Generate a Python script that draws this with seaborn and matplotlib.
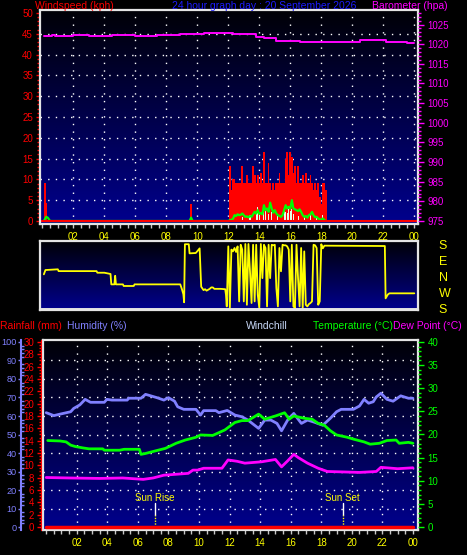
import numpy as np
import matplotlib
matplotlib.use("Agg")
import matplotlib.pyplot as plt
import seaborn as sns
from matplotlib.colors import LinearSegmentedColormap
from matplotlib.ticker import MultipleLocator

# ---------------- data, x in hours since midnight ----------------
hour_ticks = [2, 4, 6, 8, 10, 12, 14, 16, 18, 20, 22, 24]
hour_labels = ["02", "04", "06", "08", "10", "12", "14", "16", "18", "20", "22", "00"]

# windy spell, sampled every 6 minutes
burst_hours = [round(12.1 + 0.1 * i, 1) for i in range(63)]
gust_kph = [13.1, 7.5, 10, 10, 9.2, 9.2, 9.2, 9.2, 13.1,
            9.2, 9.2, 11, 9.2, 9.2, 9.2, 13.1, 11, 9.2, 11,
            9.2, 11.5, 9.2, 16.5, 9.2, 9.2, 13.9, 9.2, 7.5, 9.2,
            7.5, 9.2, 9.2, 11.5, 9.2, 9.2, 9.2, 14.8, 16.5, 11,
            16.5, 15.3, 11.5, 13.1, 9.2, 13.1, 9.2, 9.2, 11, 9.2,
            11.5, 9.2, 9.2, 11, 9.2, 7.5, 9.2, 7.5, 9.2, 5.8,
            4.2, 9.2, 9.2, 7.5]
avg_kph = [0.2, 0.3, 0.5, 1.4, 1.2, 1.6, 1.4, 1.5, 1.8,
           1.4, 1.0, 1.1, 0.9, 1.2, 1.0, 1.6, 2.2, 1.8, 2.6,
           1.7, 1.9, 1.6, 3.8, 2.6, 3.0, 2.2, 4.4, 3.0, 2.0,
           2.6, 1.8, 1.4, 1.2, 1.0, 1.4, 2.6, 3.8, 3.0, 3.4,
           3.0, 5.0, 3.0, 2.8, 2.6, 2.4, 2.8, 2.2, 1.4, 1.0,
           1.2, 0.8, 1.4, 1.6, 2.2, 1.4, 0.9, 1.0, 0.6, 0.4,
           0.3, 0.6, 0.2, 0.0]
early_gust_hours = [0.15, 0.25, 9.6]
early_gust_kph = [9.1, 4.3, 4.0]
early_avg_hours = [0.1, 0.25, 0.35, 0.5, 9.5, 9.6, 9.7, 12.0]
early_avg_kph = [0.0, 1.0, 0.8, 0.0, 0.0, 0.8, 0.0, 0.0]
speed_hours = [12.9, 13.4, 13.8, 13.9, 14.0, 14.3, 14.4, 14.6, 14.8, 15.2, 15.6,
               15.7, 15.8, 15.9, 16.0, 16.1, 16.2, 16.5, 16.9, 17.3, 17.7, 18.1]
speed_kph = [1.0, 1.4, 2.4, 3.4, 1.8, 2.6, 3.0, 1.8, 2.2, 1.2, 3.4,
             2.2, 2.0, 3.0, 2.4, 3.0, 1.6, 1.2, 1.0, 2.0, 1.0, 1.5]

baro_hours = [0.1, 0.6, 0.8, 1.5, 2.0, 3.0, 4.5, 6.0, 7.4, 8.9, 10.4, 12.3,
              13.8, 14.3, 15.1, 16.6, 20.5, 22.2, 23.5, 24.0]
baro_hpa = [1022.1, 1022.35, 1022.1, 1022.1, 1022.35, 1022.2, 1022.25, 1022.1,
            1022.4, 1022.6, 1022.75, 1022.5, 1021.9, 1021.5, 1020.9, 1020.5,
            1021.0, 1020.55, 1020.3, 1020.3]

# wind direction, 0 = S, 90 = W, 180 = N, 270 = E, 360 = S
dir_early_hours = [0.1, 0.2, 1.0, 1.05, 3.5, 3.55, 4.0, 4.4, 4.45, 4.65, 4.7, 4.75,
                   5.2, 5.25, 5.9, 5.95, 8.9, 9.0, 9.1, 9.15, 9.2, 9.45, 9.5, 9.9,
                   10.0, 10.15, 10.25, 10.4, 10.5, 10.6, 10.8, 10.9, 11.0, 11.1,
                   11.5, 11.8, 11.85]
dir_early_deg = [191, 215, 219, 209, 209, 200, 200, 193, 135, 135, 183, 135,
                 135, 126, 126, 135, 135, 110, 80, 35, 359, 359, 308, 310,
                 320, 336, 122, 103, 108, 100, 110, 118, 118, 110,
                 110, 108, 77]
dir_burst_hours = [round(11.9 + 0.1 * i, 1) for i in range(61)]
dir_burst_deg = [12, 347, 3, 329, 319, 338, 316, 347, 40, 356,
                 329, 40, 360, 21, 360, 208, 31, 356, 40, 356,
                 77, 3, 360, 170, 356, 338, 12, 356, 170, 356,
                 353, 356, 115, 12, 338, 208, 356, 353, 353, 347,
                 329, 40, 356, 12, 3, 356, 170, 12, 338, 3,
                 319, 21, 12, 25, 31, 40, 356, 353, 338, 21, 40]
dir_late_hours = [18.0, 18.1, 18.2, 22.1, 22.15, 22.3, 22.4, 24.0]
dir_late_deg = [359, 336, 351, 349, 57, 79, 85, 85]

hum_hours = [0.0, 0.5, 0.9, 1.6, 1.8, 2.2, 2.55, 2.9, 3.8, 3.97, 4.3, 5.3, 5.4, 6.2,
             6.5, 6.8, 7.25, 7.7, 8.0, 8.4, 8.6, 9.0, 9.8, 10.1, 10.3, 11.1, 11.3,
             11.85, 12.35, 12.8, 13.2, 13.9, 14.3, 14.7, 15.1, 15.4, 15.8, 16.2,
             16.7, 17.1, 17.6, 18.1, 18.6, 19.0, 19.3, 20.1, 20.5, 20.8, 21.1,
             21.4, 21.6, 21.9, 22.3, 22.7, 23.2, 23.7, 24.0]
hum_pct = [61.8, 60.2, 61.0, 62.3, 64.1, 66.0, 69.0, 67.4, 67.4, 69.0, 68.6, 68.6,
           69.6, 69.6, 71.7, 71.0, 69.9, 68.6, 69.9, 68.0, 65.0, 63.6, 63.6, 60.5,
           62.9, 62.9, 61.8, 63.0, 60.5, 59.6, 57.8, 53.3, 57.8, 57.8, 56.0, 52.0,
           57.8, 61.4, 56.0, 57.8, 56.5, 55.0, 58.8, 62.3, 63.6, 63.6, 65.4, 69.0,
           66.9, 67.7, 70.3, 72.3, 69.0, 68.0, 70.9, 69.6, 69.6]

temp_hours = [0.1, 0.9, 1.3, 1.6, 1.9, 2.4, 2.8, 3.7, 3.8, 4.8, 5.1, 6.1, 6.2, 6.5,
              7.2, 7.8, 8.5, 9.1, 9.8, 10.1, 10.9, 11.3, 11.7, 11.9, 12.35, 12.8,
              13.2, 13.9, 14.3, 15.0, 15.6, 15.9, 16.2, 16.9, 17.4, 17.8, 18.2,
              18.6, 19.0, 19.7, 20.1, 20.8, 21.2, 21.8, 22.3, 22.9, 23.1, 23.7, 24.0]
temp_c = [18.7, 18.6, 18.4, 17.7, 17.4, 17.1, 16.9, 16.9, 16.6, 16.6, 16.8, 16.8,
          15.7, 15.9, 16.5, 17.0, 18.1, 18.8, 19.4, 19.9, 19.8, 20.4, 21.0, 21.5,
          22.6, 23.0, 23.0, 24.4, 23.3, 24.0, 24.7, 23.3, 24.0, 23.5, 23.3, 22.4,
          22.0, 20.8, 19.9, 19.4, 19.0, 18.4, 17.9, 18.1, 18.7, 18.8, 18.1, 18.3, 18.1]

dew_hours = [0.0, 1.5, 3.5, 5.0, 6.35, 7.0, 7.7, 8.5, 9.3, 9.6, 9.9, 10.3, 11.5,
             11.9, 12.5, 13.0, 14.1, 15.0, 15.4, 15.8, 16.2, 16.5, 17.1, 17.8,
             18.4, 19.5, 20.5, 21.6, 21.9, 23.0, 24.0]
dew_c = [10.7, 10.6, 10.5, 10.6, 10.3, 10.6, 11.2, 11.4, 11.6, 12.3, 12.3, 12.7,
         12.7, 14.5, 14.2, 13.8, 14.1, 14.6, 13.0, 14.3, 15.7, 15.0, 13.8, 12.7,
         12.0, 11.9, 11.8, 12.0, 12.9, 12.6, 12.8]

rain_hours = [0.0, 24.0]
rain_mm = [0.0, 0.0]

sun_rise, sun_set = 7.1, 19.4

# ---------------- figure ----------------
sns.set_style("dark", {"axes.facecolor": "black", "figure.facecolor": "black"})
plt.rcParams["font.family"] = ["Liberation Sans", "DejaVu Sans"]

W, H = 467, 555
fig = plt.figure(figsize=(W / 100, H / 100), dpi=100, facecolor="black")

FRAME = "#e4e4e4"
RED, MAG, YEL = "#ff0000", "#ff00ff", "#ffff00"
GRN, LAV = "#00ff00", "#8080ff"
TICK = 7
bg = LinearSegmentedColormap.from_list("bg", ["#000006", "#00008e"])


def px_axes(left, top, right, bottom):
    return fig.add_axes([left / W, 1 - bottom / H, (right - left) / W, (bottom - top) / H])


def paint(ax):
    ax.imshow(np.linspace(0, 1, 256).reshape(-1, 1), cmap=bg, aspect="auto",
              extent=(0, 1, 0, 1), transform=ax.transAxes, zorder=0)
    for s in ax.spines.values():
        s.set_color(FRAME)
        s.set_linewidth(1.6)
        s.set_zorder(10)


def grid(ax, ys):
    for x in hour_ticks:
        ax.axvline(x, color="white", lw=1, ls=(0, (1, 4.5)), zorder=1)
    for y in ys:
        ax.axhline(y, color="white", lw=1, ls=(0, (1, 4.5)), zorder=1)


def hide_spines(ax):
    for s in ax.spines.values():
        s.set_visible(False)


def xaxis(ax):
    ax.set_xticks(hour_ticks)
    ax.set_xticklabels(hour_labels)
    ax.xaxis.set_minor_locator(MultipleLocator(0.5))
    ax.tick_params(axis="x", which="both", colors="#c8c8c8", length=3, width=1,
                   labelcolor=YEL, labelsize=TICK, pad=3, bottom=True)


# ---- top: wind speed and barometer ----
ax1 = px_axes(40, 10, 418, 224)
paint(ax1)
grid(ax1, range(5, 50, 5))
ax1.bar(early_gust_hours + burst_hours, early_gust_kph + gust_kph,
        width=0.11, color=RED, linewidth=0, zorder=3)
ax1.bar(speed_hours, speed_kph, width=0.07, color="#e0ffe8", linewidth=0, zorder=4)
sns.lineplot(x=early_avg_hours + burst_hours, y=early_avg_kph + avg_kph, ax=ax1,
             color=GRN, lw=1.6, estimator=None, zorder=5)
ax1.axhline(0, color=RED, lw=1.5, zorder=6)
ax1.set_xlim(-0.15, 24.24)
ax1.set_ylim(-0.72, 50.7)
ax1.yaxis.set_major_locator(MultipleLocator(5))
ax1.yaxis.set_minor_locator(MultipleLocator(1))
ax1.tick_params(axis="y", which="both", colors=RED, length=3, width=1, left=True,
                labelsize=TICK, pad=2)
ax1.tick_params(axis="y", which="minor", length=2)
xaxis(ax1)
ax1.set_xlabel("")
ax1.set_ylabel("")

axb = ax1.twinx()
hide_spines(axb)
sns.lineplot(x=baro_hours, y=baro_hpa, ax=axb, color=MAG, lw=1.4,
             estimator=None, drawstyle="steps-post")
axb.set_ylim(974.24, 1028.7)
axb.yaxis.set_major_locator(MultipleLocator(5))
axb.yaxis.set_minor_locator(MultipleLocator(1))
axb.tick_params(axis="y", which="both", colors=MAG, length=4, width=1, right=True,
                labelsize=TICK, pad=3)
axb.tick_params(axis="y", which="minor", length=2)
axb.set_ylabel("")

# ---- middle: wind direction ----
ax2 = px_axes(40, 241, 418, 310)
paint(ax2)
sns.lineplot(x=dir_early_hours + dir_burst_hours + dir_late_hours,
             y=dir_early_deg + dir_burst_deg + dir_late_deg,
             ax=ax2, color=YEL, lw=1.3, estimator=None, sort=False, zorder=3)
ax2.axhline(-1, color=FRAME, lw=1.4, zorder=4)
ax2.set_xlim(-0.15, 24.24)
ax2.set_ylim(-8, 377)
ax2.set_xticks([])
ax2.yaxis.tick_right()
ax2.set_yticks([0, 90, 180, 270, 360])
ax2.set_yticklabels(["S", "W", "N", "E", "S"])
ax2.tick_params(axis="y", length=0, labelcolor=YEL, labelsize=9, pad=15)
ax2.set_xlabel("")
ax2.set_ylabel("")

# ---- bottom: humidity, rain, temperature, dew point ----
ax3 = px_axes(43, 340, 418, 530)
paint(ax3)
grid(ax3, range(10, 100, 10))
sns.lineplot(x=hum_hours, y=hum_pct, ax=ax3, color=LAV, lw=2, estimator=None, zorder=3)
ax3.set_xlim(-0.21, 24.33)
ax3.set_ylim(-1.62, 101.08)
ax3.tick_params(axis="y", left=False, right=False, labelleft=False)
xaxis(ax3)
ax3.set_xlabel("")
ax3.set_ylabel("")

for h, name in [(sun_rise, "Sun Rise"), (sun_set, "Sun Set")]:
    ax3.text(h, 15.8, name, color=YEL, fontsize=7, ha="center", va="center", zorder=6)
    ax3.plot([h, h], [6.5, 13], color="white", lw=1, zorder=6)
    ax3.plot([h, h], [0, 6.5], color=YEL, lw=1, ls=(0, (1, 1)), zorder=6)

axh = ax3.twinx()
hide_spines(axh)
axh.set_ylim(-1.62, 101.08)
axh.yaxis.set_ticks_position("left")
axh.spines["left"].set_visible(True)
axh.spines["left"].set_position(("outward", 16))
axh.spines["left"].set_color(LAV)
axh.spines["left"].set_linewidth(1.5)
axh.yaxis.set_major_locator(MultipleLocator(10))
axh.yaxis.set_minor_locator(MultipleLocator(2))
axh.tick_params(axis="y", which="both", colors=LAV, length=2.2, width=1,
                labelsize=6.6, pad=0.6)
axh.tick_params(axis="y", which="minor", length=2, direction="in")

axr = ax3.twinx()
hide_spines(axr)
sns.lineplot(x=rain_hours, y=rain_mm, ax=axr, color=RED, lw=2.5, estimator=None, zorder=8)
axr.set_ylim(-0.49, 30.32)
axr.yaxis.set_ticks_position("left")
axr.spines["left"].set_visible(True)
axr.spines["left"].set_position(("outward", 1.5))
axr.spines["left"].set_color(RED)
axr.spines["left"].set_linestyle((0, (1, 1)))
axr.yaxis.set_major_locator(MultipleLocator(2))
axr.yaxis.set_minor_locator(MultipleLocator(0.5))
axr.tick_params(axis="y", which="both", colors=RED, length=3, width=1, labelsize=TICK, pad=2)
axr.tick_params(axis="y", which="minor", length=1.5)
axr.set_ylabel("")

axt = ax3.twinx()
hide_spines(axt)
sns.lineplot(x=temp_hours, y=temp_c, ax=axt, color=GRN, lw=2, estimator=None, zorder=3)
sns.lineplot(x=dew_hours, y=dew_c, ax=axt, color=MAG, lw=2, estimator=None, zorder=3)
axt.set_ylim(-0.65, 40.43)
axt.yaxis.set_major_locator(MultipleLocator(5))
axt.yaxis.set_minor_locator(MultipleLocator(1))
axt.tick_params(axis="y", which="both", colors=GRN, length=4, width=1, right=True,
                labelsize=TICK, pad=3)
axt.tick_params(axis="y", which="minor", length=2)
axt.set_ylabel("")
axr.set_zorder(axt.get_zorder() + 1)
axr.patch.set_visible(False)


# ---- header texts ----
def label(x, y, s, c):
    fig.text(x / W, 1 - y / H, s, color=c, fontsize=7.5, ha="left", va="center")


label(35, 6, "Windspeed (kph)", RED)
label(172, 6, "24 hour graph day : 20 September 2026", "#1c1cff")
label(372, 6, "Barometer (hpa)", MAG)
label(0, 326, "Rainfall (mm)", RED)
label(67, 326, "Humidity (%)", LAV)
label(246, 326, "Windchill", "#c8d8f8")
label(313, 326, "Temperature (°C)", GRN)
label(393, 326, "Dew Point (°C)", MAG)

fig.savefig("out.png", dpi=100, facecolor="black")
